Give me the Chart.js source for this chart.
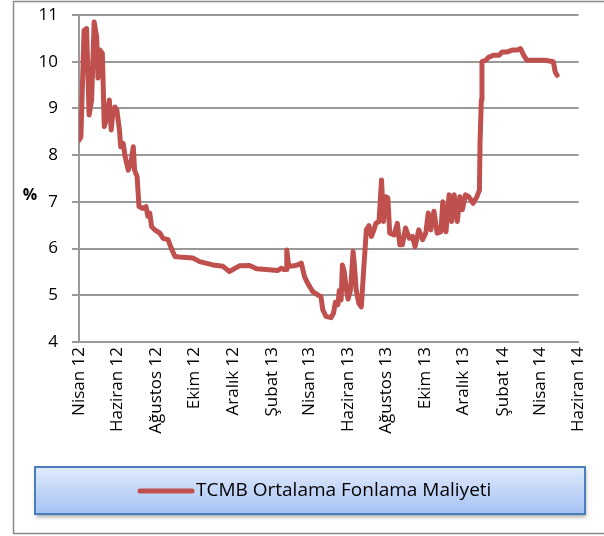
<!DOCTYPE html>
<html>
<head>
<meta charset="utf-8">
<script src="https://cdn.jsdelivr.net/npm/chart.js@4.4.1/dist/chart.umd.min.js"></script>
<style>
  html, body { margin: 0; padding: 0; background: #fff; }
  #wrap { width: 604px; height: 536px; position: relative; }
</style>
</head>
<body>
<div id="wrap"><canvas id="fonlama"></canvas></div>
<script>
// gün: 1 Nisan 2012'den itibaren geçen gün sayısı
const days = [0, 3, 8, 12, 16, 20, 24, 28, 30, 33, 37, 40, 43, 48, 51, 54, 57, 60, 64, 66, 70, 73, 78, 82, 86, 88, 92, 95, 101, 106, 109, 112, 115, 120, 128, 133, 141, 146, 152, 159, 180, 191, 212, 228, 238, 254, 270, 281, 296, 315, 320, 325, 328, 329, 332, 341, 346, 352, 357, 362, 370, 378, 383, 386, 391, 399, 403, 406, 410, 412, 415, 417, 420, 423, 426, 430, 434, 436, 439, 443, 447, 450, 452, 455, 459, 463, 467, 470, 475, 479, 482, 486, 489, 492, 499, 504, 508, 512, 517, 523, 528, 532, 538, 544, 549, 553, 557, 562, 567, 573, 576, 581, 586, 590, 594, 599, 603, 607, 612, 617, 624, 630, 634, 635, 637, 638, 644, 649, 657, 665, 670, 678, 686, 694, 699, 704, 709, 723, 738, 751, 754, 757];
const rates = [8.32, 8.39, 10.67, 10.71, 8.86, 9.18, 10.85, 10.53, 9.65, 10.25, 10.18, 8.61, 8.75, 9.18, 8.54, 8.96, 9.03, 8.96, 8.54, 8.18, 8.25, 7.97, 7.68, 7.82, 8.18, 7.68, 7.54, 6.90, 6.86, 6.90, 6.69, 6.76, 6.47, 6.40, 6.33, 6.22, 6.19, 6.01, 5.83, 5.82, 5.80, 5.72, 5.65, 5.62, 5.51, 5.63, 5.64, 5.57, 5.55, 5.53, 5.58, 5.55, 5.55, 5.97, 5.62, 5.63, 5.65, 5.69, 5.40, 5.26, 5.08, 5.01, 4.97, 4.69, 4.55, 4.52, 4.62, 4.85, 4.80, 5.10, 4.90, 5.65, 5.50, 5.15, 4.92, 5.12, 5.94, 5.65, 5.10, 4.83, 4.75, 5.40, 5.80, 6.40, 6.49, 6.26, 6.40, 6.54, 6.58, 7.47, 6.58, 7.11, 7.08, 6.33, 6.29, 6.54, 6.08, 6.08, 6.44, 6.22, 6.26, 6.04, 6.40, 6.19, 6.33, 6.76, 6.40, 6.80, 6.33, 6.36, 7.00, 6.36, 7.15, 6.58, 7.15, 6.58, 7.11, 6.83, 7.15, 7.11, 6.97, 7.11, 7.25, 8.30, 9.18, 10.00, 10.03, 10.10, 10.14, 10.14, 10.21, 10.21, 10.25, 10.25, 10.28, 10.14, 10.03, 10.03, 10.03, 10.00, 9.78, 9.71];

const tickDays = [0, 61, 122, 183, 244, 306, 365, 426, 487, 548, 609, 671, 730, 791];
const tickLabels = ['Nisan 12', 'Haziran 12', 'Ağustos 12', 'Ekim 12', 'Aralık 12', 'Şubat 13', 'Nisan 13',
  'Haziran 13', 'Ağustos 13', 'Ekim 13', 'Aralık 13', 'Şubat 14', 'Nisan 14', 'Haziran 14'];
const seriesName = 'TCMB Ortalama Fonlama Maliyeti';

const FONT = "'Open Sans', 'Liberation Sans', sans-serif";

// dış çerçeve, % etiketi ve alttaki lejant kutusu
const decor = {
  id: 'decor',
  beforeDraw(chart) {
    const ctx = chart.ctx;
    ctx.save();
    ctx.strokeStyle = '#8a8a8a';
    ctx.lineWidth = 1.5;
    ctx.beginPath();
    ctx.moveTo(604, 1.5);
    ctx.lineTo(13.5, 1.5);
    ctx.lineTo(13.5, 533.5);
    ctx.lineTo(604, 533.5);
    ctx.stroke();
    ctx.restore();
  },
  afterDraw(chart) {
    const ctx = chart.ctx;
    ctx.save();
    ctx.fillStyle = '#000';
    ctx.font = 'bold 16px ' + FONT;
    ctx.textAlign = 'center';
    ctx.textBaseline = 'middle';
    ctx.fillText('%', 30, 195);

    // lejant
    const x = 35, y = 467, w = 550, h = 47;
    ctx.shadowColor = 'rgba(0,0,0,0.35)';
    ctx.shadowBlur = 4;
    ctx.shadowOffsetX = 1;
    ctx.shadowOffsetY = 3;
    const g = ctx.createLinearGradient(0, y, 0, y + h);
    g.addColorStop(0, '#e0eafc');
    g.addColorStop(1, '#a6c2f3');
    ctx.fillStyle = g;
    ctx.fillRect(x, y, w, h);
    ctx.shadowColor = 'transparent';
    ctx.strokeStyle = '#4a7ebb';
    ctx.lineWidth = 2;
    ctx.strokeRect(x, y, w, h);

    const ds = chart.data.datasets[0];
    ctx.strokeStyle = ds.borderColor;
    ctx.lineWidth = 5;
    ctx.lineCap = 'round';
    ctx.beginPath();
    ctx.moveTo(140, 491);
    ctx.lineTo(192, 491);
    ctx.stroke();
    ctx.fillStyle = '#000';
    ctx.font = '19px ' + FONT;
    ctx.textAlign = 'left';
    ctx.fillText(ds.label, 196, 491);
    ctx.restore();
  }
};

new Chart(document.getElementById('fonlama'), {
  type: 'line',
  data: {
    datasets: [{
      label: seriesName,
      data: days.map((d, i) => ({ x: d, y: rates[i] })),
      borderColor: '#c0504d',
      borderWidth: 5,
      pointRadius: 0,
      tension: 0,
      borderJoinStyle: 'round',
      borderCapStyle: 'round'
    }]
  },
  options: {
    responsive: true,
    maintainAspectRatio: false,
    animation: false,
    layout: { padding: { left: 13, right: 24, top: 15, bottom: 0 } },
    plugins: { legend: { display: false }, tooltip: { enabled: false } },
    scales: {
      x: {
        type: 'linear',
        min: 0,
        max: 791,
        afterBuildTicks: (scale) => { scale.ticks = tickDays.map(v => ({ value: v })); },
        afterFit: (scale) => { scale.height = 194; },
        grid: { display: false, drawTicks: false },
        border: { display: true, color: '#999', width: 2 },
        ticks: {
          autoSkip: false,
          maxRotation: 90,
          minRotation: 90,
          padding: 5,
          color: '#000',
          font: { family: FONT, size: 17 },
          callback: (v, i) => tickLabels[i]
        }
      },
      y: {
        min: 4,
        max: 11,
        afterFit: (scale) => {
          scale.width = 66;
          scale.paddingTop = 0;
          scale.paddingBottom = 0;
        },
        grid: { color: '#999', lineWidth: 2, tickLength: 7 },
        border: { display: true, color: '#999', width: 2 },
        ticks: {
          stepSize: 1,
          padding: 14,
          color: '#000',
          font: { family: FONT, size: 17 }
        }
      }
    }
  },
  plugins: [decor]
});
</script>
</body>
</html>
